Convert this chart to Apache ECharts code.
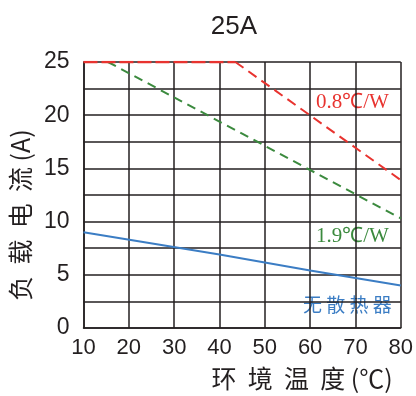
<!DOCTYPE html>
<html><head><meta charset="utf-8">
<script src="https://cdn.jsdelivr.net/npm/echarts@6/dist/echarts.min.js"></script>
<style>html,body{margin:0;padding:0;background:#fff}#c{width:416px;height:396px}</style>
</head><body><div id="c"></div>
<script>
const title = "25A";
const xTicks = [10, 20, 30, 40, 50, 60, 70, 80];
const yTicks = [0, 5, 10, 15, 20, 25];
const red08Flat = [[10, 25], [43.5, 25]];
const red08Slope = [[43.5, 25], [80, 13.9]];
const green19 = [[15.4, 25], [80, 10.3]];
const blueNoSink = [[10, 9.0], [40, 6.9], [60, 5.4], [80, 4.0]];
const xName = "环  境  温  度 (℃)";
const yName = "负  载  电  流 (A)";

const chart = echarts.init(document.getElementById('c'), null, {renderer: 'canvas'});
const ink = '#231f20';
const cjk = '"Noto Sans CJK SC", sans-serif';
chart.setOption({
  animation: false,
  title: {text: title, left: 229, top: 9, textAlign: 'center',
    textStyle: {fontFamily: '"Liberation Sans", Arial', fontSize: 26, fontWeight: 'normal', color: ink}},
  grid: {left: 82, right: 13, top: 62, bottom: 65, containLabel: false},
  xAxis: {type: 'value', min: xTicks[0], max: xTicks[xTicks.length-1], interval: 10,
    name: xName, nameLocation: 'middle', nameGap: 38,
    nameTextStyle: {fontFamily: cjk, fontSize: 25, color: ink, padding: [0, 0, 0, 120]},
    axisLine: {show: true, lineStyle: {color: ink, width: 1.5}}, axisTick: {show: false},
    splitLine: {show: true, lineStyle: {color: ink, width: 1.5}},
    axisLabel: {fontFamily: '"Liberation Sans", Arial', fontSize: 22, color: ink, margin: 9}},
  yAxis: {type: 'value', min: 0, max: yTicks[yTicks.length-1], interval: 2.5,
    name: yName, nameLocation: 'middle', nameGap: 48,
    nameTextStyle: {fontFamily: cjk, fontSize: 25, color: ink, padding: [0, 40, 0, 0]},
    axisLine: {show: true, lineStyle: {color: ink, width: 1.5}}, axisTick: {show: false},
    splitLine: {show: true, lineStyle: {color: ink, width: 1.5}},
    axisLabel: {fontFamily: '"Liberation Sans", Arial', fontSize: 23, color: ink, margin: 14,
      formatter: v => (yTicks.indexOf(v) >= 0 ? String(v) : '')}},
  series: [
    {type: 'line', data: blueNoSink, symbol: 'none', lineStyle: {color: '#3b7dc4', width: 2}},
    {type: 'line', data: green19, symbol: 'none', lineStyle: {color: '#3b8a3e', width: 2, type: [9, 6]}},
    {type: 'line', data: red08Flat, symbol: 'none', lineStyle: {color: '#e8332f', width: 2.5, type: [14, 4]}},
    {type: 'line', data: red08Slope, symbol: 'none', lineStyle: {color: '#e8332f', width: 2, type: [10, 6]}}
  ],
  graphic: [
    {type: 'text', left: 316, top: 92, style: {text: '0.8℃/W', fill: '#e8332f', font: '21px "Liberation Serif", serif'}},
    {type: 'text', left: 316, top: 226, style: {text: '1.9℃/W', fill: '#3b8a3e', font: '21px "Liberation Serif", serif'}},
    {type: 'text', left: 303, top: 295, style: {text: '无 散 热 器', fill: '#3b7dc4', font: '19px "Noto Sans CJK SC", sans-serif'}}
  ]
});
</script></body></html>
